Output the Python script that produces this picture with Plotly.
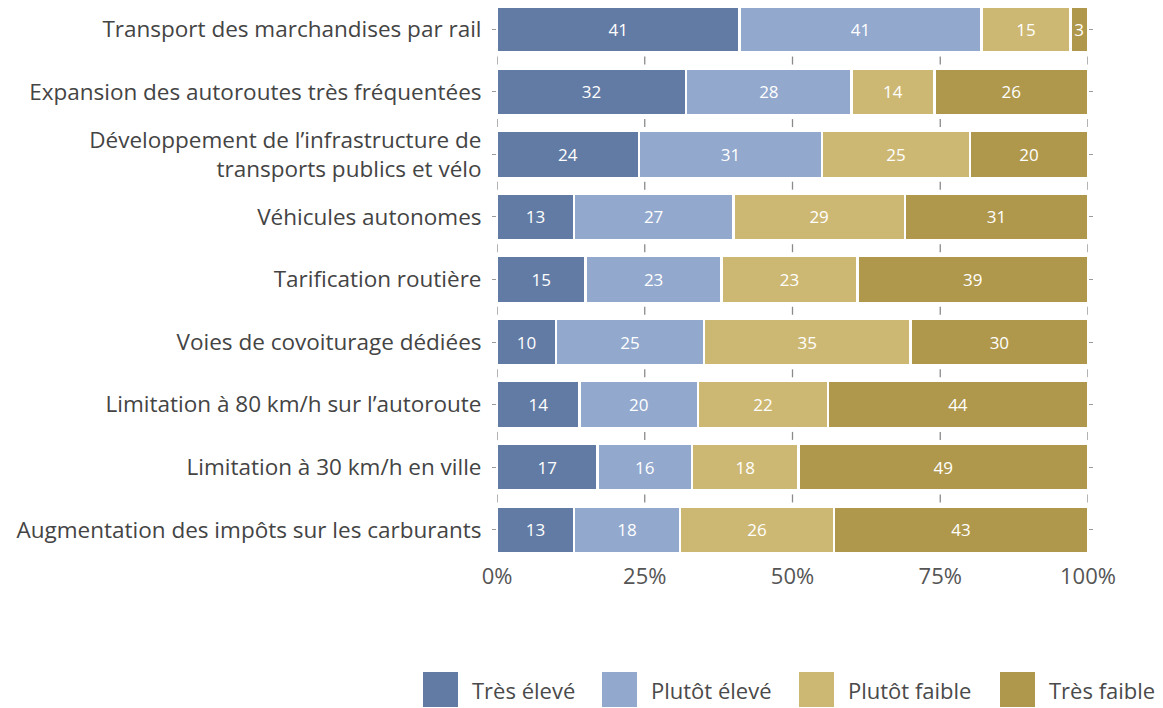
import plotly.graph_objects as go

categories = [
    "Transport des marchandises par rail",
    "Expansion des autoroutes très fréquentées",
    "Développement de l’infrastructure de<br>transports publics et vélo",
    "Véhicules autonomes",
    "Tarification routière",
    "Voies de covoiturage dédiées",
    "Limitation à 80 km/h sur l’autoroute",
    "Limitation à 30 km/h en ville",
    "Augmentation des impôts sur les carburants",
]
tres_eleve = [41, 32, 24, 13, 15, 10, 14, 17, 13]
plutot_eleve = [41, 28, 31, 27, 23, 25, 20, 16, 18]
plutot_faible = [15, 14, 25, 29, 23, 35, 22, 18, 26]
tres_faible = [3, 26, 20, 31, 39, 30, 44, 49, 43]

series_names = ["Très élevé", "Plutôt élevé", "Plutôt faible", "Très faible"]
series_values = [tres_eleve, plutot_eleve, plutot_faible, tres_faible]
colors = ["#627ba4", "#92a8cd", "#cdb873", "#af984b"]

x_ticks = [0, 25, 50, 75, 100]
x_ticktext = ["0%", "25%", "50%", "75%", "100%"]

FONT = "Open Sans"
# the page adds an 8px body margin, so the figure is 8px smaller on each side
OFF = 8
W, H = 1163 - OFF, 708 - OFF
ML, MR, MT, MB = 489, 75, 0, 147
PW, PH = W - ML - MR, H - MT - MB
y_top = -0.34
row = PH / (len(categories) - 0.5 - y_top)


def px_x(page_x):
    return (page_x - OFF - ML) / PW


def px_y(page_y):
    return (PH - (page_y - OFF - MT)) / PH


fig = go.Figure()
for name, vals, col in zip(series_names, series_values, colors):
    fig.add_trace(go.Bar(
        y=categories,
        x=vals,
        name=name,
        orientation="h",
        marker=dict(color=col, line=dict(color="white", width=2.5)),
        text=[str(v) for v in vals],
        textposition="inside",
        insidetextanchor="middle",
        textangle=0,
        constraintext="none",
        textfont=dict(family=FONT, size=17, color="white"),
        showlegend=False,
    ))

# short grid marks in the gaps between rows
half = 4 / row
for i in range(len(categories) - 1):
    for t in x_ticks:
        fig.add_shape(type="line", xref="x", yref="y", layer="below",
                      x0=t, x1=t, y0=i + 0.5 - half, y1=i + 0.5 + half,
                      line=dict(color="#8a8a8a", width=1.3))

# legend drawn by hand (big square swatches)
legend_px = [423, 602, 799, 1000]
sw = 35
for name, col, px in zip(series_names, colors, legend_px):
    fig.add_shape(type="rect", xref="paper", yref="paper",
                  x0=px_x(px), x1=px_x(px + sw),
                  y0=px_y(707), y1=px_y(672),
                  fillcolor=col, line=dict(width=0))
    fig.add_annotation(xref="paper", yref="paper",
                       x=px_x(px + sw + 12), y=px_y(690),
                       text=name, showarrow=False,
                       xanchor="left", yanchor="middle",
                       font=dict(family=FONT, size=22, color="#4a4a4a"))

fig.update_layout(
    width=W, height=H,
    margin=dict(l=ML, r=MR, t=MT, b=MB),
    barmode="stack",
    bargap=0.25,
    plot_bgcolor="white",
    paper_bgcolor="white",
    font=dict(family=FONT, size=22, color="#444444"),
    xaxis=dict(
        range=[0, 100],
        tickvals=x_ticks,
        ticktext=x_ticktext,
        showgrid=False,
        zeroline=False,
        showline=False,
        ticks="",
        tickfont=dict(family=FONT, size=22, color="#555555"),
    ),
    yaxis=dict(
        range=[len(categories) - 0.5, y_top],
        showgrid=False,
        showline=False,
        ticks="outside",
        ticklen=4,
        tickcolor="#9a9a9a",
        mirror="ticks",
        ticklabelstandoff=6,
        tickfont=dict(family=FONT, size=22.5, color="#444444"),
    ),
)

fig.write_html("out.html")
